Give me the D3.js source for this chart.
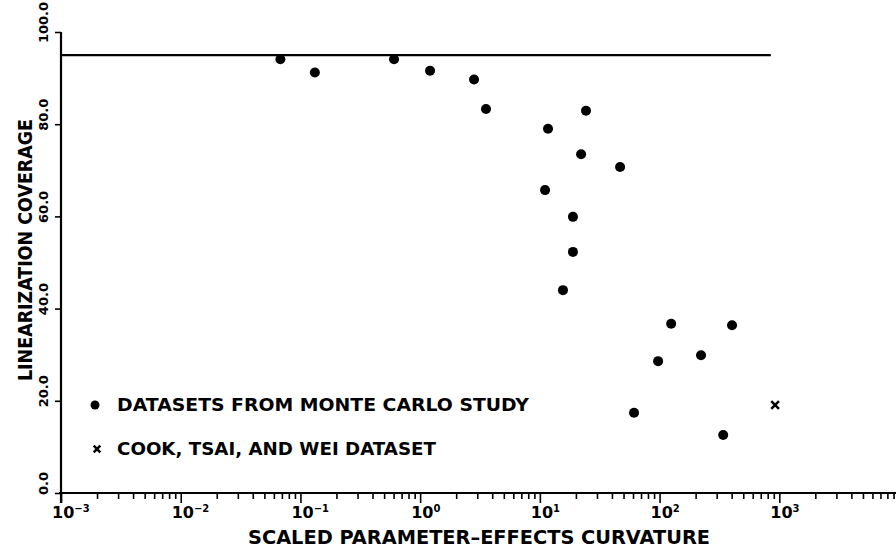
<!DOCTYPE html>
<html>
<head>
<meta charset="utf-8">
<script src="https://cdn.jsdelivr.net/npm/d3@7"></script>
<style>
  body { margin: 0; background: #fff; }
  text { font-family: "DejaVu Sans", sans-serif; font-weight: bold; fill: #000; }
</style>
</head>
<body>
<div id="chart"></div>
<script>
// Monte Carlo datasets: scaled parameter-effects curvature vs linearization coverage
const curvature = [0.068, 0.132, 0.605, 1.21, 2.82, 3.55, 24.3, 11.7, 22.1, 46.8,
	11.05, 18.9, 18.9, 15.6, 125, 403, 222, 97.2, 61.2, 340]
const coverage = [94.1, 91.2, 94.1, 91.6, 89.7, 83.3, 82.9, 79.0, 73.5, 70.7,
	65.7, 59.9, 52.3, 44.0, 36.7, 36.4, 29.9, 28.6, 17.4, 12.6]

// Cook, Tsai and Wei dataset
const cookCurvature = [923]
const cookCoverage = [19.1]

// nominal 95% line
const nominalLevel = 95
const nominalSpan = [0.001, 850]

const yTicks = [0, 20, 40, 60, 80, 100]
const xDecades = [-3, -2, -1, 0, 1, 2, 3]

const legendItems = ['DATASETS FROM MONTE CARLO STUDY', 'COOK, TSAI, AND WEI DATASET']

const width = 896, height = 551

const svg = d3.select('#chart').append('svg')
	.attr('width', width)
	.attr('height', height)

const x = d3.scaleLog().domain([1e-3, 1e4]).range([61, 899])
const y = d3.scaleLinear().domain([0, 100]).range([493, 32])

/*----------------- axes -----------------*/

const xAxis = svg.append('g')
	.attr('transform', `translate(0,${y(0)})`)
	.call(d3.axisBottom(x).tickValues(x.ticks()).tickFormat('').tickSizeOuter(0))

xAxis.select('.domain').attr('stroke-width', 2.2).attr('d', `M${x(1e-3) - 2},0H${width}`)
xAxis.selectAll('.tick line')
	.attr('stroke-width', 1.6)
	.attr('y2', d => Math.abs(Math.log10(d) - Math.round(Math.log10(d))) < 1e-9 ? 10 : 6)

const yAxis = svg.append('g')
	.attr('transform', `translate(${x(1e-3)},0)`)
	.call(d3.axisLeft(y).tickValues(yTicks).tickSize(6).tickSizeOuter(0).tickFormat(d => d.toFixed(1)))

yAxis.select('.domain').attr('stroke-width', 2.2).attr('d', `M0,${y(100)}V${y(0) + 10}`)
yAxis.selectAll('.tick line').attr('stroke-width', 1.6)
yAxis.selectAll('.tick text')
	.attr('x', 0).attr('dy', 0)
	.attr('transform', 'translate(-13,-10) rotate(-90)')
	.attr('text-anchor', 'middle')
	.style('font-size', '13px')
	.style('font-family', '"DejaVu Sans", sans-serif')
	.style('font-weight', 'bold')

// decade labels 10^k
const decLabels = svg.append('g')
	.selectAll('text')
	.data(xDecades)
	.enter()
	.append('text')
	.attr('x', d => x(Math.pow(10, d)) - 9)
	.attr('y', 518)
	.style('font-size', '16px')

decLabels.append('tspan').text('10')
decLabels.append('tspan')
	.attr('dy', -6)
	.style('font-size', '10px')
	.text(d => d < 0 ? '\u2212' + (-d) : d)

// axis titles
svg.append('text')
	.attr('x', 479)
	.attr('y', 544)
	.attr('text-anchor', 'middle')
	.attr('textLength', 462)
	.attr('lengthAdjust', 'spacingAndGlyphs')
	.style('font-size', '19px')
	.text('SCALED PARAMETER\u2013EFFECTS CURVATURE')

svg.append('text')
	.attr('transform', 'translate(32,250) rotate(-90)')
	.attr('text-anchor', 'middle')
	.attr('textLength', 262)
	.attr('lengthAdjust', 'spacingAndGlyphs')
	.style('font-size', '19px')
	.text('LINEARIZATION COVERAGE')

/*----------------- marks -----------------*/

svg.append('line')
	.attr('x1', x(nominalSpan[0]))
	.attr('x2', x(nominalSpan[1]))
	.attr('y1', y(nominalLevel))
	.attr('y2', y(nominalLevel))
	.attr('stroke', '#000')
	.attr('stroke-width', 2.2)

svg.append('g')
	.selectAll('circle')
	.data(curvature.map((c, i) => [c, coverage[i]]))
	.enter()
	.append('circle')
	.attr('cx', d => x(d[0]))
	.attr('cy', d => y(d[1]))
	.attr('r', 5)
	.attr('fill', '#000')

const cross = d3.symbol().type(d3.symbolX).size(40)

svg.append('g')
	.selectAll('path')
	.data(cookCurvature.map((c, i) => [c, cookCoverage[i]]))
	.enter()
	.append('path')
	.attr('transform', d => `translate(${x(d[0])},${y(d[1])})`)
	.attr('d', cross)
	.attr('stroke', '#000')
	.attr('stroke-width', 2.5)

/*----------------- legend -----------------*/

const legend = svg.append('g')
legend.append('circle').attr('cx', 95).attr('cy', 405).attr('r', 4.5).attr('fill', '#000')
legend.append('path')
	.attr('transform', 'translate(97,449)')
	.attr('d', d3.symbol().type(d3.symbolX).size(30))
	.attr('stroke', '#000')
	.attr('stroke-width', 2.5)

legend.selectAll('text')
	.data(legendItems)
	.enter()
	.append('text')
	.attr('x', 117)
	.attr('y', (d, i) => 411 + i * 44)
	.attr('textLength', (d, i) => i === 0 ? 412 : 319)
	.attr('lengthAdjust', 'spacingAndGlyphs')
	.style('font-size', '17px')
	.text(d => d)
</script>
</body>
</html>
